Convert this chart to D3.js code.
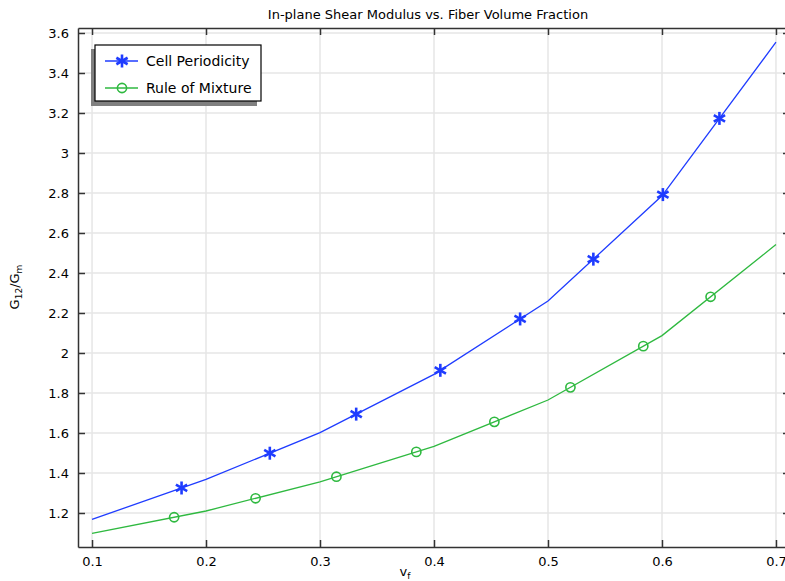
<!DOCTYPE html>
<html>
<head>
<meta charset="utf-8">
<script src="https://cdn.jsdelivr.net/npm/d3@7"></script>
<style>
  body { margin: 0; background: #fff; }
  svg { font-family: "DejaVu Sans", sans-serif; }
</style>
</head>
<body>
<svg width="785" height="581"></svg>
<script>
// data
const vf = [0.1, 0.2, 0.3, 0.4, 0.5, 0.6, 0.7];
const cellPeriodicity = [1.168, 1.368, 1.602, 1.893, 2.26, 2.786, 3.554];
const ruleOfMixture = [1.098, 1.21, 1.356, 1.533, 1.765, 2.087, 2.542];
const xTicks = [0.1, 0.2, 0.3, 0.4, 0.5, 0.6, 0.7];
const yTicks = [1.2, 1.4, 1.6, 1.8, 2, 2.2, 2.4, 2.6, 2.8, 3, 3.2, 3.4, 3.6];
const seriesNames = ["Cell Periodicity", "Rule of Mixture"];
const markerCount = 8;

function main() {
  var svg = d3.select("svg");
  var left = 78, right = 790, top = 28, bottom = 547;

  var x = d3.scaleLinear().domain([0.0877, 0.7123]).range([left, right]);
  var y = d3.scaleLinear().domain([1.03, 3.625]).range([bottom, top]);
  var fmt = (d) => String(+d.toFixed(1));

  // grid
  var grid = svg.append("g").attr("stroke", "#e6e6e6").attr("stroke-width", 1.5);
  grid.selectAll(".gx").data(xTicks).enter().append("line")
    .attr("x1", (d) => x(d)).attr("x2", (d) => x(d))
    .attr("y1", top).attr("y2", bottom);
  grid.selectAll(".gy").data(yTicks).enter().append("line")
    .attr("y1", (d) => y(d)).attr("y2", (d) => y(d))
    .attr("x1", left).attr("x2", right);

  // axes on all sides
  var axisStyle = (g) => {
    g.select(".domain").attr("stroke", "#333").attr("stroke-width", 1.5);
    g.selectAll(".tick line").attr("stroke", "#333").attr("stroke-width", 1.5);
    g.selectAll("text").attr("font-size", 13).attr("fill", "#000")
      .attr("font-family", "DejaVu Sans, sans-serif");
  };
  svg.append("g").attr("transform", "translate(0," + bottom + ")")
    .call(d3.axisBottom(x).tickValues(xTicks).tickFormat(fmt).tickSizeInner(-7).tickSizeOuter(0).tickPadding(10))
    .call(axisStyle);
  svg.append("g").attr("transform", "translate(0," + top + ")")
    .call(d3.axisTop(x).tickValues(xTicks).tickFormat("").tickSizeInner(-7).tickSizeOuter(0))
    .call(axisStyle);
  svg.append("g").attr("transform", "translate(" + left + ",0)")
    .call(d3.axisLeft(y).tickValues(yTicks).tickFormat(fmt).tickSizeInner(-7).tickSizeOuter(0).tickPadding(9))
    .call(axisStyle);
  svg.append("g").attr("transform", "translate(" + right + ",0)")
    .call(d3.axisRight(y).tickValues(yTicks).tickFormat("").tickSizeInner(-7).tickSizeOuter(0))
    .call(axisStyle);

  var series = [
    { name: seriesNames[0], values: cellPeriodicity, color: "#1f3cff", marker: "star" },
    { name: seriesNames[1], values: ruleOfMixture, color: "#2fb940", marker: "circle" }
  ];

  var line = d3.line().x((d) => x(d[0])).y((d) => y(d[1]));

  function drawMarker(g, type, color) {
    if (type == "star") {
      [90, 30, 150].forEach((a) => {
        var r = 6.5, t = a * Math.PI / 180;
        g.append("line")
          .attr("x1", -r * Math.cos(t)).attr("y1", -r * Math.sin(t))
          .attr("x2", r * Math.cos(t)).attr("y2", r * Math.sin(t))
          .attr("stroke", color).attr("stroke-width", 2.6);
      });
    } else {
      g.append("circle").attr("r", 4.6).attr("fill", "none")
        .attr("stroke", color).attr("stroke-width", 1.6);
    }
  }

  series.forEach((s) => {
    var path = svg.append("path")
      .datum(d3.zip(vf, s.values))
      .attr("d", line)
      .attr("fill", "none")
      .attr("stroke", s.color)
      .attr("stroke-width", 1.3);
    // markers evenly spaced along the curve
    var node = path.node(), len = node.getTotalLength();
    for (var k = 1; k <= markerCount; k++) {
      var p = node.getPointAtLength(len * k / (markerCount + 1));
      var m = svg.append("g").attr("transform", "translate(" + p.x + "," + p.y + ")");
      drawMarker(m, s.marker, s.color);
    }
  });

  // legend
  var lg = svg.append("g");
  lg.append("rect").attr("x", 91).attr("y", 49).attr("width", 166).attr("height", 57).attr("fill", "#808080");
  lg.append("rect").attr("x", 95).attr("y", 45).attr("width", 166).attr("height", 56)
    .attr("fill", "#fff").attr("stroke", "#000").attr("stroke-width", 1.2);
  series.forEach((s, i) => {
    var yy = 61 + i * 27;
    lg.append("line").attr("x1", 105).attr("x2", 138).attr("y1", yy).attr("y2", yy)
      .attr("stroke", s.color).attr("stroke-width", 1.3);
    drawMarker(lg.append("g").attr("transform", "translate(122," + yy + ")"), s.marker, s.color);
    lg.append("text").attr("x", 146).attr("y", yy + 5).attr("font-size", 14).text(s.name);
  });

  // title
  svg.append("text").attr("x", 428).attr("y", 19).attr("text-anchor", "middle")
    .attr("font-size", 13).text("In-plane Shear Modulus vs. Fiber Volume Fraction");

  // axis labels
  var xl = svg.append("text").attr("x", 405).attr("y", 576).attr("text-anchor", "middle").attr("font-size", 13);
  xl.append("tspan").text("v");
  xl.append("tspan").attr("dy", 3).attr("font-size", 9).text("f");

  var yl = svg.append("text").attr("transform", "translate(19,287) rotate(-90)")
    .attr("text-anchor", "middle").attr("font-size", 13);
  yl.append("tspan").text("G");
  yl.append("tspan").attr("dy", 3).attr("font-size", 9).text("12");
  yl.append("tspan").attr("dy", -3).text("/G");
  yl.append("tspan").attr("dy", 3).attr("font-size", 9).text("m");
}

main();
</script>
</body>
</html>
